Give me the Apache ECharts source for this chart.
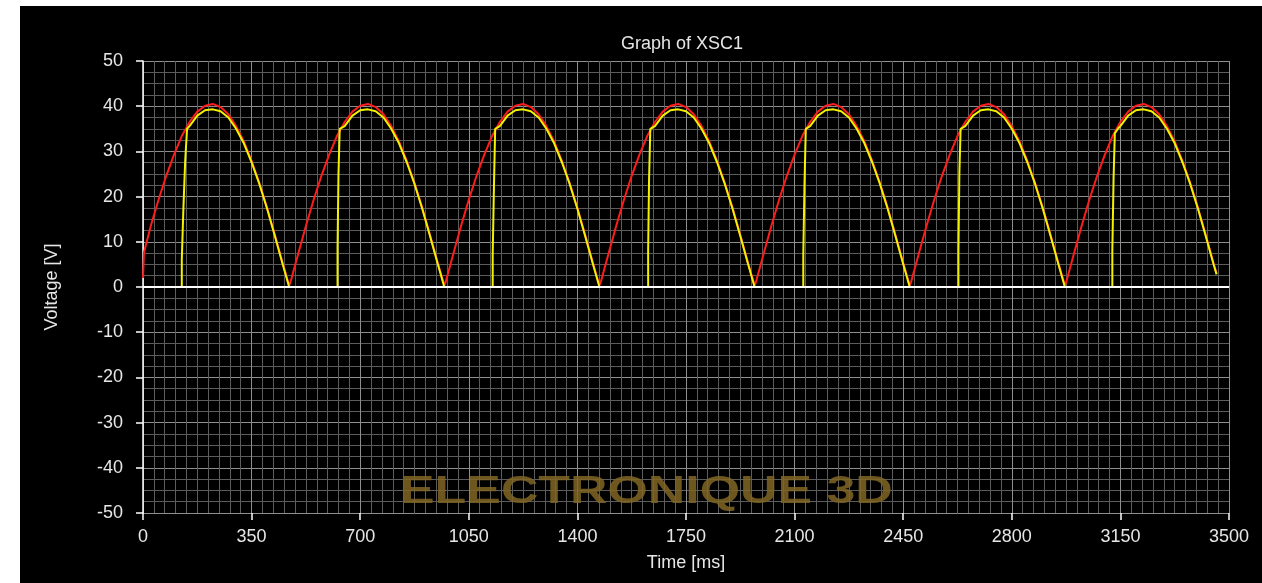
<!DOCTYPE html>
<html>
<head>
<meta charset="utf-8">
<title>Graph of XSC1</title>
<script src="https://cdn.jsdelivr.net/npm/echarts@6/dist/echarts.min.js"></script>
<style>
	body { margin: 0; background: #fff; }
	#scopeChart { position: absolute; left: 20px; top: 6px; width: 1242px; height: 577px; }
</style>
</head>
<body>
<div id="scopeChart"></div>
<script>
// axis ticks
var timeTicks = [0, 350, 700, 1050, 1400, 1750, 2100, 2450, 2800, 3150, 3500];
var voltTicks = [-50, -40, -30, -20, -10, 0, 10, 20, 30, 40, 50];

// red trace: rectified supply [ms, V]
var redPoints = [
	[0, 2], [3, 7.6], [25, 13.5], [50, 19.3], [75, 24.6], [100, 29.3], [125, 33.4], [150, 36.5], [175, 38.8], [200, 40.1], [225, 40.5], [250, 39.8], [275, 38.2], [300, 35.6], [325, 32.2], [350, 27.9], [375, 23.0], [400, 17.5], [425, 11.5], [450, 5.3], [471, 0.4], [475, 1.0],
	[500, 7.3], [525, 13.5], [550, 19.3], [575, 24.6], [600, 29.3], [625, 33.4], [650, 36.5], [675, 38.8], [700, 40.1], [725, 40.5], [750, 39.8], [775, 38.2], [800, 35.6], [825, 32.2], [850, 27.9], [875, 23.0], [900, 17.5], [925, 11.5], [950, 5.3], [971, 0.4], [975, 1.0],
	[1000, 7.3], [1025, 13.5], [1050, 19.3], [1075, 24.6], [1100, 29.3], [1125, 33.4], [1150, 36.5], [1175, 38.8], [1200, 40.1], [1225, 40.5], [1250, 39.8], [1275, 38.2], [1300, 35.6], [1325, 32.2], [1350, 27.9], [1375, 23.0], [1400, 17.5], [1425, 11.5], [1450, 5.3], [1471, 0.4], [1475, 1.0],
	[1500, 7.3], [1525, 13.5], [1550, 19.3], [1575, 24.6], [1600, 29.3], [1625, 33.4], [1650, 36.5], [1675, 38.8], [1700, 40.1], [1725, 40.5], [1750, 39.8], [1775, 38.2], [1800, 35.6], [1825, 32.2], [1850, 27.9], [1875, 23.0], [1900, 17.5], [1925, 11.5], [1950, 5.3], [1971, 0.4], [1975, 1.0],
	[2000, 7.3], [2025, 13.5], [2050, 19.3], [2075, 24.6], [2100, 29.3], [2125, 33.4], [2150, 36.5], [2175, 38.8], [2200, 40.1], [2225, 40.5], [2250, 39.8], [2275, 38.2], [2300, 35.6], [2325, 32.2], [2350, 27.9], [2375, 23.0], [2400, 17.5], [2425, 11.5], [2450, 5.3], [2471, 0.4], [2475, 1.0],
	[2500, 7.3], [2525, 13.5], [2550, 19.3], [2575, 24.6], [2600, 29.3], [2625, 33.4], [2650, 36.5], [2675, 38.8], [2700, 40.1], [2725, 40.5], [2750, 39.8], [2775, 38.2], [2800, 35.6], [2825, 32.2], [2850, 27.9], [2875, 23.0], [2900, 17.5], [2925, 11.5], [2950, 5.3], [2971, 0.4], [2975, 1.0],
	[3000, 7.3], [3025, 13.5], [3050, 19.3], [3075, 24.6], [3100, 29.3], [3125, 33.4], [3150, 36.5], [3175, 38.8], [3200, 40.1], [3225, 40.5], [3250, 39.8], [3275, 38.2], [3300, 35.6], [3325, 32.2], [3350, 27.9], [3375, 23.0], [3400, 17.5], [3425, 11.5], [3450, 5.3], [3460, 3.0]
];

// yellow trace: thyristor output [ms, V]
var yellowPoints = [
	[0, 0], [125, 0], [125, 6], [130, 6], [130, 17], [136, 17], [136, 28], [142, 28], [142, 35], [150, 35.6], [175, 37.9], [200, 39.1], [225, 39.3], [250, 38.9], [275, 37.5], [300, 35.0], [325, 31.8], [350, 27.6], [375, 22.8], [400, 17.3], [425, 11.3], [450, 5.1], [471, 0],
	[627, 0], [627, 8.5], [630, 8.5], [630, 25], [634, 25], [634, 35], [650, 35.6], [675, 37.9], [700, 39.1], [725, 39.3], [750, 38.9], [775, 37.5], [800, 35.0], [825, 31.8], [850, 27.6], [875, 22.8], [900, 17.3], [925, 11.3], [950, 5.1], [971, 0],
	[1127, 0], [1127, 7], [1131, 7], [1131, 22], [1135, 22], [1135, 35], [1150, 35.6], [1175, 37.9], [1200, 39.1], [1225, 39.3], [1250, 38.9], [1275, 37.5], [1300, 35.0], [1325, 31.8], [1350, 27.6], [1375, 22.8], [1400, 17.3], [1425, 11.3], [1450, 5.1], [1471, 0],
	[1628, 0], [1628, 8], [1631, 8], [1631, 24], [1635, 24], [1635, 35], [1650, 35.6], [1675, 37.9], [1700, 39.1], [1725, 39.3], [1750, 38.9], [1775, 37.5], [1800, 35.0], [1825, 31.8], [1850, 27.6], [1875, 22.8], [1900, 17.3], [1925, 11.3], [1950, 5.1], [1971, 0],
	[2128, 0], [2128, 7], [2132, 7], [2132, 23], [2136, 23], [2136, 35], [2150, 35.6], [2175, 37.9], [2200, 39.1], [2225, 39.3], [2250, 38.9], [2275, 37.5], [2300, 35.0], [2325, 31.8], [2350, 27.6], [2375, 22.8], [2400, 17.3], [2425, 11.3], [2450, 5.1], [2471, 0],
	[2628, 0], [2628, 8], [2631, 8], [2631, 25], [2635, 25], [2635, 35], [2650, 35.6], [2675, 37.9], [2700, 39.1], [2725, 39.3], [2750, 38.9], [2775, 37.5], [2800, 35.0], [2825, 31.8], [2850, 27.6], [2875, 22.8], [2900, 17.3], [2925, 11.3], [2950, 5.1], [2971, 0],
	[3124, 0], [3124, 8], [3128, 8], [3128, 24], [3132, 24], [3132, 34], [3142, 35], [3150, 35.6], [3175, 37.9], [3200, 39.1], [3225, 39.3], [3250, 38.9], [3275, 37.5], [3300, 35.0], [3325, 31.8], [3350, 27.6], [3375, 22.8], [3400, 17.3], [3425, 11.3], [3450, 5.1], [3460, 2.8]
];

var labelColor = '#e6e6e6';
var fontName = 'Liberation Sans';

scopeChart();

function scopeChart() {
	var myChart = echarts.init(document.getElementById('scopeChart'));
	var option = {
		backgroundColor: '#000',
		animation: false,
		title: {
			text: 'Graph of XSC1',
			left: 596,
			top: 24,
			textStyle: {
				color: labelColor,
				fontSize: 18,
				fontWeight: 'normal',
				fontFamily: fontName
			}
		},
		grid: {
			left: 123,
			right: 33,
			top: 55,
			bottom: 70
		},
		xAxis: {
			type: 'value',
			min: timeTicks[0],
			max: timeTicks[timeTicks.length - 1],
			interval: timeTicks[1] - timeTicks[0],
			name: 'Time [ms]',
			nameLocation: 'middle',
			nameGap: 41,
			nameTextStyle: { color: labelColor, fontSize: 18, fontFamily: fontName },
			axisLine: { show: false, onZero: false },
			axisTick: { show: true, length: 7, lineStyle: { color: '#fff', width: 1.5 } },
			axisLabel: {
				margin: 15,
				color: labelColor,
				fontSize: 18,
				fontFamily: fontName,
				formatter: function(v) {
					return String(v);
				}
			},
			splitLine: { show: true, lineStyle: { color: '#8e8e8e', width: 1 } },
			minorTick: { show: false, splitNumber: 10 },
			minorSplitLine: { show: true, lineStyle: { color: '#5c5c5c', width: 1 } }
		},
		yAxis: {
			type: 'value',
			min: voltTicks[0],
			max: voltTicks[voltTicks.length - 1],
			interval: voltTicks[1] - voltTicks[0],
			name: 'Voltage [V]',
			nameLocation: 'middle',
			nameRotate: 90,
			nameGap: 82,
			nameTextStyle: { color: labelColor, fontSize: 18, fontFamily: fontName },
			axisLine: { show: true, onZero: false, lineStyle: { color: '#fff', width: 1.5 } },
			axisTick: { show: true, length: 7, lineStyle: { color: '#fff', width: 1.5 } },
			axisLabel: { margin: 20, color: labelColor, fontSize: 18, fontFamily: fontName },
			splitLine: { show: true, lineStyle: { color: '#8e8e8e', width: 1 } },
			minorTick: { show: false, splitNumber: 4 },
			minorSplitLine: { show: true, lineStyle: { color: '#5c5c5c', width: 1 } }
		},
		graphic: [{
			type: 'text',
			left: 380,
			top: 467,
			z: 1,
			scaleX: 1.33,
			style: {
				text: 'ELECTRONIQUE 3D',
				fill: 'rgba(128, 102, 36, 0.85)',
				font: 'bold 39px "Liberation Sans"'
			}
		}],
		series: [{
				name: 'A',
				type: 'line',
				data: redPoints,
				symbol: 'none',
				lineStyle: { color: '#ff1c1c', width: 2 },
				markLine: {
					silent: true,
					symbol: 'none',
					label: { show: false },
					lineStyle: { color: '#fff', type: 'solid', width: 2 },
					data: [{ yAxis: 0 }]
				}
			},
			{
				name: 'B',
				type: 'line',
				data: yellowPoints,
				symbol: 'none',
				lineStyle: { color: '#f2f200', width: 2 }
			}
		]
	};
	myChart.setOption(option, true);
}
</script>
</body>
</html>
